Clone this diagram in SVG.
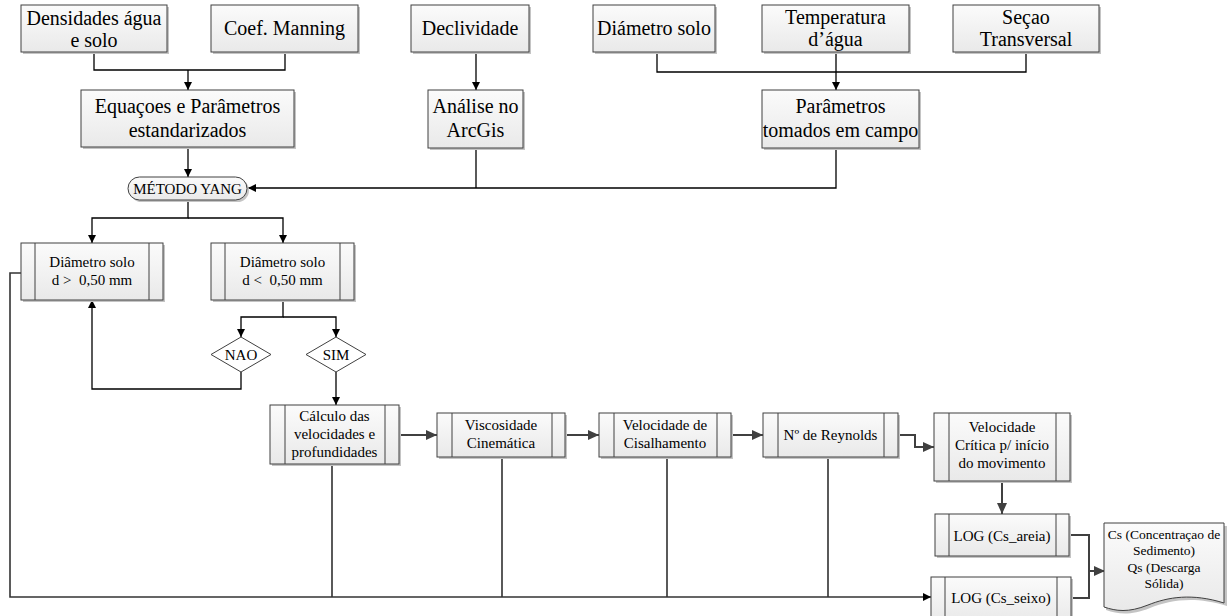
<svg xmlns="http://www.w3.org/2000/svg" width="1227" height="616" viewBox="0 0 1227 616" font-family="'Liberation Serif', 'Times New Roman', 'DejaVu Serif', serif">
<style>
.sh{fill:#c4c4c4}
.bx{fill:url(#g);stroke:#404040;stroke-width:1}
.in{stroke:#404040;stroke-width:1;fill:none}
text{font-family:'Liberation Serif','Times New Roman','DejaVu Serif',serif;fill:#000;text-anchor:middle}
.t20{font-size:20px}
.t15{font-size:15px}
.t13{font-size:13.5px}
.c{fill:none;stroke:#000;stroke-width:1.3}
.cg{fill:none;stroke:#404040;stroke-width:2}
.cb{fill:none;stroke:#333;stroke-width:1.6}
</style>
<defs>
<linearGradient id="g" x1="0" y1="0" x2="0" y2="1">
<stop offset="0" stop-color="#fbfbfb"/>
<stop offset="1" stop-color="#e9e9e9"/>
</linearGradient>
<marker id="a" markerUnits="userSpaceOnUse" markerWidth="10" markerHeight="10" refX="8" refY="4" orient="auto">
<path d="M0,0 L8,4 L0,8 Z" fill="#000"/>
</marker>
<marker id="ag" markerUnits="userSpaceOnUse" markerWidth="14" markerHeight="14" refX="11" refY="5" orient="auto">
<path d="M0,0 L11,5 L0,10 Z" fill="#404040"/>
</marker>
</defs>

<g id="connectors">
<path class="c" d="M94,52 V70 H285 V52"/>
<path class="c" d="M188,70 V90" marker-end="url(#a)"/>
<path class="c" d="M188,147 V177" marker-end="url(#a)"/>
<path class="c" d="M476,52 V90" marker-end="url(#a)"/>
<path class="c" d="M657,52 V72 H1026 V52"/>
<path class="c" d="M836,52 V90" marker-end="url(#a)"/>
<path class="c" d="M836,148 V188 H248" marker-end="url(#a)"/>
<path class="c" d="M476,148 V188"/>
<path class="c" d="M188,200 V218 H92 V243" marker-end="url(#a)"/>
<path class="c" d="M188,218 H283 V243" marker-end="url(#a)"/>
<path class="c" d="M283,300 V317 H241 V337" marker-end="url(#a)"/>
<path class="c" d="M283,317 H336 V337" marker-end="url(#a)"/>
<path class="c" d="M241,372 V389 H92 V300" marker-end="url(#a)"/>
<path class="c" d="M336,372 V405" marker-end="url(#a)"/>
<path class="c" d="M332,464 V597"/>
<path class="c" d="M502,457 V597"/>
<path class="c" d="M667,457 V597"/>
<path class="c" d="M828,457 V597"/>
<path class="cb" d="M21,273 H10 V597 H931" marker-end="url(#a)"/>
<path class="cg" d="M399,435 H437" marker-end="url(#ag)"/>
<path class="cg" d="M565,435 H599" marker-end="url(#ag)"/>
<path class="cg" d="M731,435 H763" marker-end="url(#ag)"/>
<path class="cg" d="M898,435 H915 V447 H934" marker-end="url(#ag)"/>
<path class="cg" d="M1002,481 V514" marker-end="url(#ag)"/>
<path class="cg" d="M1069,535 H1089 V598 H1071"/>
<path class="cg" d="M1089,571 H1105" marker-end="url(#ag)"/>
</g>

<g id="n-densidades">
<rect class="sh" x="23" y="7" width="146" height="47"/>
<rect class="bx" x="21" y="5" width="146" height="47"/>
<text class="t20" x="94" y="25">Densidades água</text>
<text class="t20" x="94" y="47">e solo</text>
</g>
<g id="n-manning">
<rect class="sh" x="213" y="7" width="147" height="47"/>
<rect class="bx" x="211" y="5" width="147" height="47"/>
<text class="t20" x="284.5" y="35">Coef. Manning</text>
</g>
<g id="n-declividade">
<rect class="sh" x="413" y="7" width="118" height="47"/>
<rect class="bx" x="411" y="5" width="118" height="47"/>
<text class="t20" x="470" y="35">Declividade</text>
</g>
<g id="n-diametro">
<rect class="sh" x="595" y="7" width="122" height="47"/>
<rect class="bx" x="593" y="5" width="122" height="47"/>
<text class="t20" x="654" y="35">Diámetro solo</text>
</g>
<g id="n-temperatura">
<rect class="sh" x="764" y="7" width="147" height="47"/>
<rect class="bx" x="762" y="5" width="147" height="47"/>
<text class="t20" x="835.5" y="24">Temperatura</text>
<text class="t20" x="835.5" y="46">d’água</text>
</g>
<g id="n-secao">
<rect class="sh" x="955" y="7" width="146" height="47"/>
<rect class="bx" x="953" y="5" width="146" height="47"/>
<text class="t20" x="1026" y="24">Seçao</text>
<text class="t20" x="1026" y="46">Transversal</text>
</g>
<g id="n-equacoes">
<rect class="sh" x="83" y="92" width="213" height="57"/>
<rect class="bx" x="81" y="90" width="213" height="57"/>
<text class="t20" x="187.5" y="113">Equaçoes e Parâmetros</text>
<text class="t20" x="187.5" y="137">estandarizados</text>
</g>
<g id="n-arcgis">
<rect class="sh" x="430" y="92" width="95" height="58"/>
<rect class="bx" x="428" y="90" width="95" height="58"/>
<text class="t20" x="475.5" y="113">Análise no</text>
<text class="t20" x="475.5" y="137">ArcGis</text>
</g>
<g id="n-campo">
<rect class="sh" x="764" y="92" width="157" height="58"/>
<rect class="bx" x="762" y="90" width="157" height="58"/>
<text class="t20" x="840.5" y="113">Parâmetros</text>
<text class="t20" x="840.5" y="137">tomados em campo</text>
</g>
<g id="n-yang">
<rect class="sh" x="130" y="179" width="119" height="23" rx="11.5"/>
<rect class="bx" x="128" y="177" width="119" height="23" rx="11.5"/>
<text class="t15" x="187.5" y="194">MÉTODO YANG</text>
</g>
<g id="n-dmaior">
<rect class="sh" x="23" y="245" width="142" height="57"/>
<rect class="bx" x="21" y="243" width="142" height="57"/>
<path class="in" d="M35,243 V300 M149,243 V300"/>
<text class="t15" x="92" y="267">Diâmetro solo</text>
<text class="t15" x="92" y="285" xml:space="preserve">d &gt;  0,50 mm</text>
</g>
<g id="n-dmenor">
<rect class="sh" x="213" y="245" width="143" height="57"/>
<rect class="bx" x="211" y="243" width="143" height="57"/>
<path class="in" d="M225,243 V300 M340,243 V300"/>
<text class="t15" x="282.5" y="267">Diâmetro solo</text>
<text class="t15" x="282.5" y="285" xml:space="preserve">d &lt;  0,50 mm</text>
</g>
<g id="n-nao">
<path d="M241,337 L271,354.5 L241,372 L211,354.5 Z" fill="#fff" stroke="#404040" stroke-width="1"/>
<text class="t15" x="241" y="360">NAO</text>
</g>
<g id="n-sim">
<path d="M336,337 L366,354.5 L336,372 L306,354.5 Z" fill="#fff" stroke="#404040" stroke-width="1"/>
<text class="t15" x="336" y="360">SIM</text>
</g>
<g id="n-calculo">
<rect class="sh" x="272" y="407" width="129" height="59"/>
<rect class="bx" x="270" y="405" width="129" height="59"/>
<path class="in" d="M285,405 V464 M385,405 V464"/>
<text class="t15" x="334.5" y="421">Cálculo das</text>
<text class="t15" x="334.5" y="439">velocidades e</text>
<text class="t15" x="334.5" y="457">profundidades</text>
</g>
<g id="n-viscosidade">
<rect class="sh" x="439" y="415" width="128" height="44"/>
<rect class="bx" x="437" y="413" width="128" height="44"/>
<path class="in" d="M452,413 V457 M552,413 V457"/>
<text class="t15" x="501" y="430">Viscosidade</text>
<text class="t15" x="501" y="448">Cinemática</text>
</g>
<g id="n-cisalhamento">
<rect class="sh" x="601" y="415" width="132" height="44"/>
<rect class="bx" x="599" y="413" width="132" height="44"/>
<path class="in" d="M614,413 V457 M717,413 V457"/>
<text class="t15" x="665" y="430">Velocidade de</text>
<text class="t15" x="665" y="448">Cisalhamento</text>
</g>
<g id="n-reynolds">
<rect class="sh" x="765" y="415" width="135" height="44"/>
<rect class="bx" x="763" y="413" width="135" height="44"/>
<path class="in" d="M778,413 V457 M884,413 V457"/>
<text class="t15" x="830.5" y="440">Nº de Reynolds</text>
</g>
<g id="n-critica">
<rect class="sh" x="936" y="415" width="136" height="68"/>
<rect class="bx" x="934" y="413" width="136" height="68"/>
<path class="in" d="M949,413 V481 M1056,413 V481"/>
<text class="t15" x="1002" y="432">Velocidade</text>
<text class="t15" x="1002" y="450">Crítica p/ início</text>
<text class="t15" x="1002" y="468">do movimento</text>
</g>
<g id="n-areia">
<rect class="sh" x="937" y="516" width="134" height="42"/>
<rect class="bx" x="935" y="514" width="134" height="42"/>
<path class="in" d="M949,514 V556 M1056,514 V556"/>
<text class="t15" x="1002" y="541">LOG (Cs_areia)</text>
</g>
<g id="n-seixo">
<rect class="sh" x="933" y="579" width="140" height="45"/>
<rect class="bx" x="931" y="577" width="140" height="45"/>
<path class="in" d="M945,577 V622 M1057,577 V622"/>
<text class="t15" x="1001" y="603">LOG (Cs_seixo)</text>
</g>
<g id="n-documento">
<path d="M1106,526 H1227 V606 C1195,596 1170,600 1150,608 C1130,616 1118,614 1106,610 Z" fill="#c4c4c4"/>
<path d="M1104,523 H1224 V603 C1192,593 1168,597 1148,605 C1128,613 1116,611 1104,607 Z" fill="url(#g)" stroke="#404040" stroke-width="1"/>
<text class="t13" x="1164" y="539">Cs (Concentraçao de</text>
<text class="t13" x="1164" y="555">Sedimento)</text>
<text class="t13" x="1164" y="572">Qs (Descarga</text>
<text class="t13" x="1164" y="588">Sólida)</text>
</g>
</svg>
